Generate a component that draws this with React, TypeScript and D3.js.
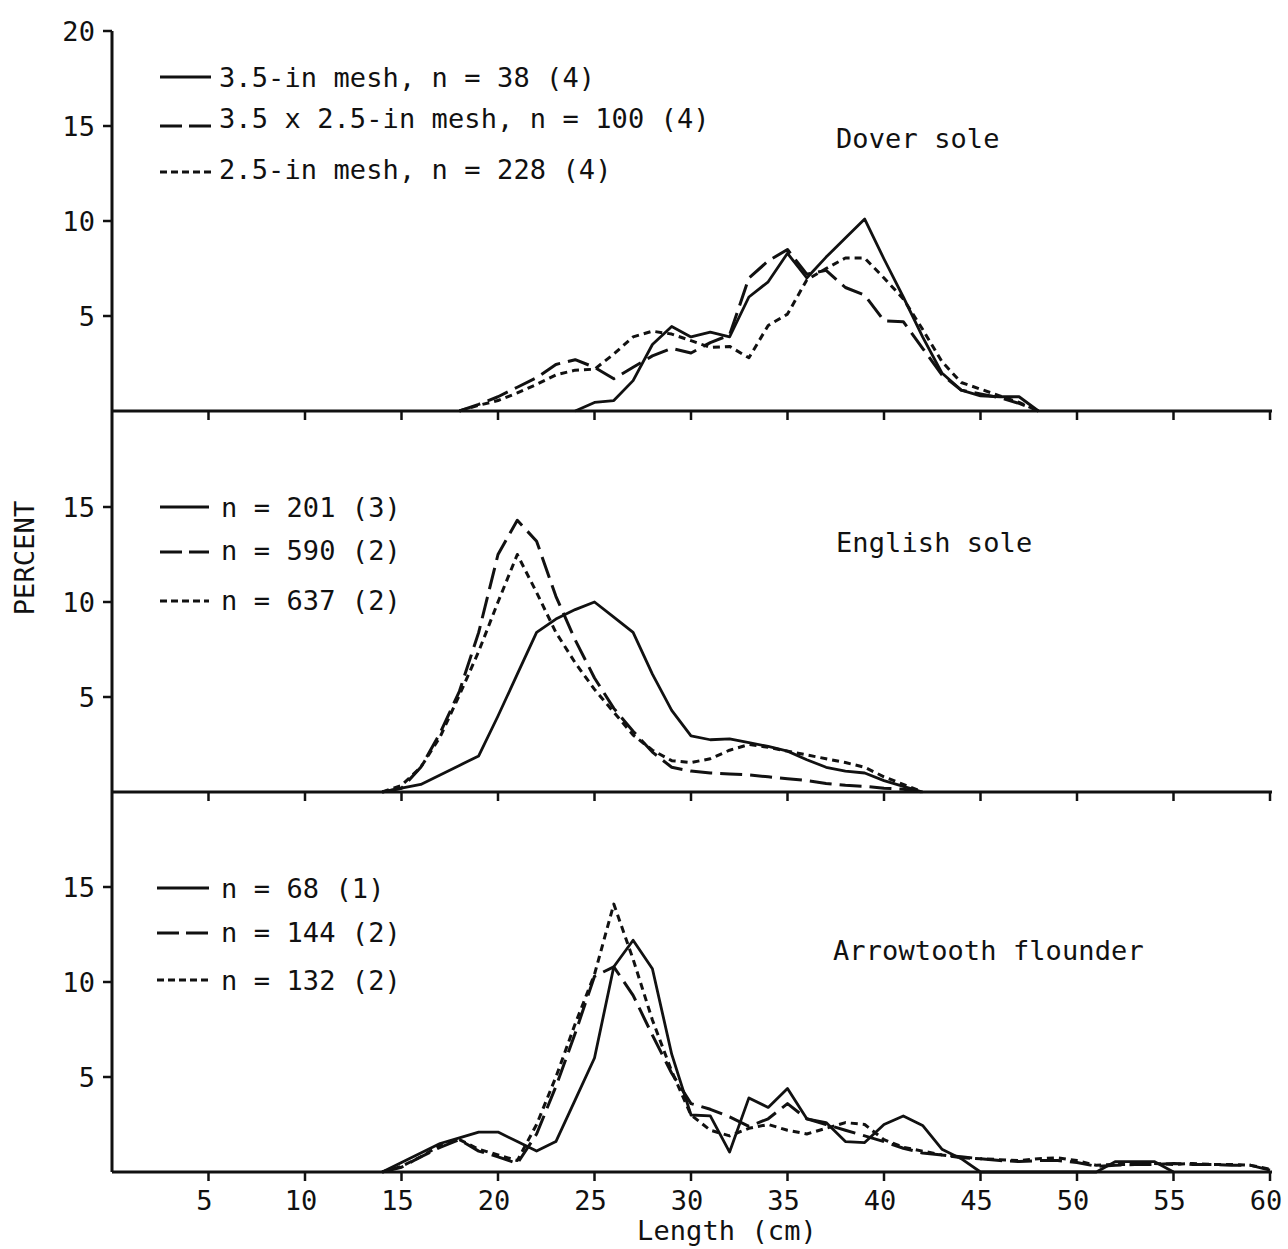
import React from "react";
import * as d3 from "d3";

// ---------- DATA (percent by 1-cm length class) ----------
const lengthTicks = [5, 10, 15, 20, 25, 30, 35, 40, 45, 50, 55, 60];

// Dover sole
const doverSolidStart = 24;
const doverSolid = [0, 0.45, 0.55, 1.6, 3.5, 4.45, 3.9, 4.15, 3.9, 6.0, 6.8, 8.3, 7.0, 8.1, 9.1, 10.1, 8.0, 6.0, 3.9, 2.0, 1.1, 0.8, 0.75, 0.75, 0];
const doverDashedStart = 18;
const doverDashed = [0, 0.35, 0.75, 1.25, 1.75, 2.45, 2.7, 2.3, 1.7, 2.3, 2.9, 3.3, 3.05, 3.6, 4.0, 7.0, 7.9, 8.5, 7.2, 7.4, 6.5, 6.1, 4.75, 4.7, 3.3, 1.9, 1.1, 0.9, 0.7, 0.4, 0];
const doverDottedStart = 18;
const doverDotted = [0, 0.3, 0.55, 0.95, 1.4, 1.9, 2.15, 2.2, 3.0, 3.9, 4.2, 4.05, 3.7, 3.35, 3.4, 2.8, 4.5, 5.1, 6.9, 7.5, 8.05, 8.05, 7.0, 5.9, 4.3, 2.6, 1.5, 1.15, 0.8, 0.45, 0];

// English sole
const englishSolidStart = 14;
const englishSolid = [0, 0.2, 0.4, 0.9, 1.4, 1.9, 4.0, 6.2, 8.4, 9.1, 9.6, 10.0, 9.2, 8.4, 6.2, 4.3, 2.95, 2.75, 2.8, 2.6, 2.4, 2.15, 1.7, 1.3, 1.1, 1.0, 0.6, 0.3, 0];
const englishDashedStart = 14;
const englishDashed = [0, 0.2, 1.3, 3.1, 5.3, 8.4, 12.5, 14.3, 13.2, 10.3, 8.0, 6.0, 4.4, 3.2, 2.1, 1.3, 1.1, 1.0, 0.95, 0.9, 0.8, 0.7, 0.6, 0.45, 0.35, 0.3, 0.2, 0.15, 0];
const englishDottedStart = 14;
const englishDotted = [0, 0.35, 1.3, 2.9, 5.1, 7.4, 10.0, 12.5, 10.5, 8.4, 6.8, 5.4, 4.2, 3.0, 2.2, 1.65, 1.55, 1.75, 2.2, 2.5, 2.35, 2.15, 1.95, 1.75, 1.55, 1.3, 0.8, 0.4, 0];

// Arrowtooth flounder
const arrowSolidStart = 14;
const arrowSolid = [0, 0.5, 1.0, 1.5, 1.8, 2.1, 2.1, 1.6, 1.1, 1.6, 3.8, 6.0, 10.8, 12.2, 10.7, 6.2, 3.0, 2.95, 1.05, 3.9, 3.4, 4.4, 2.8, 2.6, 1.6, 1.55, 2.5, 2.95, 2.45, 1.2, 0.7, 0, 0, 0, 0, 0, 0, 0, 0.55, 0.55, 0.55, 0];
const arrowDashedStart = 14;
const arrowDashed = [0, 0.25, 0.8, 1.3, 1.7, 1.1, 0.8, 0.45, 2.0, 4.5, 7.3, 10.3, 10.8, 9.3, 7.2, 5.2, 3.6, 3.3, 2.9, 2.4, 2.8, 3.6, 2.8, 2.5, 2.2, 1.9, 1.6, 1.25, 1.0, 0.9, 0.8, 0.7, 0.6, 0.55, 0.6, 0.6, 0.5, 0.3, 0.35, 0.4, 0.4, 0.45, 0.4, 0.4, 0.35, 0.35, 0.1];
const arrowDottedStart = 14;
const arrowDotted = [0, 0.3, 0.8, 1.4, 1.7, 1.2, 0.9, 0.6, 2.5, 5.0, 7.8, 10.4, 14.1, 11.2, 8.0, 5.3, 3.0, 2.2, 1.9, 2.3, 2.5, 2.2, 2.0, 2.3, 2.6, 2.5, 1.7, 1.3, 1.1, 0.9, 0.75, 0.7, 0.65, 0.6, 0.7, 0.75, 0.6, 0.35, 0.4, 0.4, 0.45, 0.4, 0.45, 0.4, 0.4, 0.35, 0.15];

// Labels
const doverLegend = ["3.5-in mesh, n = 38 (4)", "3.5 x 2.5-in mesh, n = 100 (4)", "2.5-in mesh, n = 228 (4)"];
const englishLegend = ["n = 201 (3)", "n = 590 (2)", "n = 637 (2)"];
const arrowLegend = ["n = 68 (1)", "n = 144 (2)", "n = 132 (2)"];
const speciesNames = ["Dover sole", "English sole", "Arrowtooth flounder"];

// ---------- LAYOUT ----------
const W = 1288;
const H = 1249;
const FONT = "'DejaVu Sans Mono', 'Liberation Mono', monospace";
const INK = "#111";
const baselines = [411, 792, 1172];
const panelH = 380;
const dashes = ["none", "22 8", "7 5"];
const legendDashes = ["none", "22 7", "7 4"];

const x = d3.scaleLinear().domain([0, 60]).range([112, 1270]);

type Series = { start: number; values: number[] };

const panels = [
  {
    series: [
      { start: doverSolidStart, values: doverSolid },
      { start: doverDashedStart, values: doverDashed },
      { start: doverDottedStart, values: doverDotted },
    ] as Series[],
    legend: doverLegend,
    lineY: [77, 126, 172],
    textY: [87, 128, 179],
    textX: 219,
    lineX: [160, 211],
    name: speciesNames[0],
    nameX: 836,
    nameY: 148,
    yTicks: [5, 10, 15, 20],
  },
  {
    series: [
      { start: englishSolidStart, values: englishSolid },
      { start: englishDashedStart, values: englishDashed },
      { start: englishDottedStart, values: englishDotted },
    ] as Series[],
    legend: englishLegend,
    lineY: [507, 552, 601],
    textY: [517, 560, 610],
    textX: 221,
    lineX: [160, 209],
    name: speciesNames[1],
    nameX: 836,
    nameY: 552,
    yTicks: [5, 10, 15],
  },
  {
    series: [
      { start: arrowSolidStart, values: arrowSolid },
      { start: arrowDashedStart, values: arrowDashed },
      { start: arrowDottedStart, values: arrowDotted },
    ] as Series[],
    legend: arrowLegend,
    lineY: [888, 933, 980],
    textY: [898, 942, 990],
    textX: 221,
    lineX: [157, 209],
    name: speciesNames[2],
    nameX: 833,
    nameY: 960,
    yTicks: [5, 10, 15],
  },
];

const textStyle: React.CSSProperties = {
  fontFamily: FONT,
  fontSize: 27,
  fill: INK,
  letterSpacing: 0.1,
};

export default function App() {
  return (
    <svg
      width={W}
      height={H}
      viewBox={`0 0 ${W} ${H}`}
      style={{ position: "absolute", left: 0, top: 0, background: "#fff" }}
    >
      <rect x={0} y={0} width={W} height={H} fill="#fff" />
      {/* vertical axis */}
      <line x1={x(0)} x2={x(0)} y1={baselines[0] - panelH} y2={baselines[2]} stroke={INK} strokeWidth={3} />
      {panels.map((p, pi) => {
        const base = baselines[pi];
        const y = d3.scaleLinear().domain([0, 20]).range([base, base - panelH]);
        return (
          <g key={pi}>
            {/* baseline axis */}
            <line x1={x(0)} x2={x(60) + 2} y1={base} y2={base} stroke={INK} strokeWidth={3} />
            {lengthTicks.map((t) => (
              <line key={t} x1={x(t)} x2={x(t)} y1={base} y2={base + 9} stroke={INK} strokeWidth={2.5} />
            ))}
            {/* y ticks */}
            {p.yTicks.map((t) => (
              <g key={t}>
                <line x1={x(0) - 9} x2={x(0)} y1={y(t)} y2={y(t)} stroke={INK} strokeWidth={2.5} />
                <text x={x(0) - 17} y={y(t) + 10} textAnchor="end" style={textStyle}>
                  {t}
                </text>
              </g>
            ))}
            {/* series */}
            {p.series.map((s, si) => {
              const gen = d3
                .line<number>()
                .x((_, i) => x(s.start + i))
                .y((v) => y(v));
              return (
                <path
                  key={si}
                  d={gen(s.values) || ""}
                  fill="none"
                  stroke={INK}
                  strokeWidth={si === 0 ? 2.8 : 3}
                  strokeDasharray={dashes[si]}
                  strokeLinejoin="round"
                />
              );
            })}
            {/* legend */}
            {p.legend.map((label, li) => (
              <g key={li}>
                <line
                  x1={p.lineX[0]}
                  x2={p.lineX[1]}
                  y1={p.lineY[li]}
                  y2={p.lineY[li]}
                  stroke={INK}
                  strokeWidth={3}
                  strokeDasharray={legendDashes[li]}
                />
                <text x={p.textX} y={p.textY[li]} style={textStyle}>
                  {label}
                </text>
              </g>
            ))}
            <text x={p.nameX} y={p.nameY} style={textStyle}>
              {p.name}
            </text>
          </g>
        );
      })}
      {/* x tick labels */}
      {lengthTicks.map((t) => (
        <text key={t} x={x(t) - 4} y={1210} textAnchor="middle" style={textStyle}>
          {t}
        </text>
      ))}
      <text x={727} y={1240} textAnchor="middle" style={textStyle}>
        Length (cm)
      </text>
      <text
        transform={`translate(34, 558) rotate(-90)`}
        textAnchor="middle"
        style={textStyle}
      >
        PERCENT
      </text>
    </svg>
  );
}
